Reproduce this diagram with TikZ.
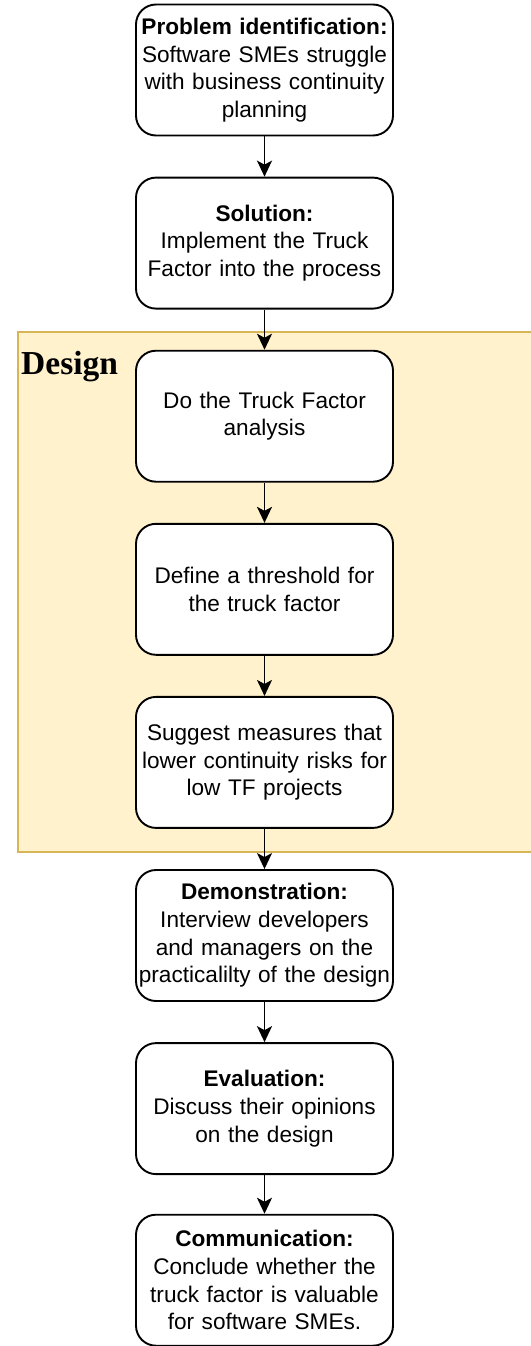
\documentclass[tikz,border=0pt]{standalone}
\usepackage{fontspec}
\setmainfont{Liberation Sans}
\newfontfamily\designfont{Liberation Serif}
\usetikzlibrary{arrows.meta}
\definecolor{designfill}{HTML}{FFF2CC}
\definecolor{designline}{HTML}{D6B656}
\begin{document}
\begin{tikzpicture}[x=1pt,y=-1pt,
  stepbox/.style={draw=black, line width=1.9pt, fill=white, rounded corners=20pt,
    minimum width=257pt, minimum height=131pt, inner sep=0pt, align=center,
    font=\fontsize{22.6}{27.6}\selectfont, text width=255pt},
  flow/.style={line width=1.9pt, -{Stealth[length=16pt,width=15pt,inset=4pt]}}]
\useasboundingbox (0,0) rectangle (530,1346);
\fill[designfill] (18,332) rectangle (532,852);
\draw[designline, line width=1.9pt] (540,332) -- (18,332) -- (18,852) -- (540,852);
\node[anchor=base west, inner sep=0pt, font=\designfont\bfseries\fontsize{33.5}{38}\selectfont] (dlabel) at (21,374) {Design};
\node[stepbox] (b1) at (264.5,70) {\textbf{Problem identification:}\\Software SMEs struggle\\with business continuity\\planning};
\node[stepbox] (b2) at (264.5,243.1) {\textbf{Solution:}\\Implement the Truck\\Factor into the process};
\node[stepbox] (b3) at (264.5,416.2) {Do the Truck Factor\\analysis};
\node[stepbox] (b4) at (264.5,589.3) {Define a threshold for\\the truck factor};
\node[stepbox] (b5) at (264.5,762.4) {Suggest measures that\\lower continuity risks for\\low TF projects};
\node[stepbox] (b6) at (264.5,935.5) {\textbf{Demonstration:}\\Interview developers\\and managers on the\\practicalilty of the design};
\node[stepbox] (b7) at (264.5,1108.6) {\textbf{Evaluation:}\\Discuss their opinions\\on the design};
\node[stepbox] (b8) at (264.5,1280.2) {\textbf{Communication:}\\Conclude whether the\\truck factor is valuable\\for software SMEs.};
\foreach \a/\b in {b1/b2,b2/b3,b3/b4,b4/b5,b5/b6,b6/b7,b7/b8}
  \draw[flow] (\a.south) -- (\b.north);
\end{tikzpicture}
\end{document}
